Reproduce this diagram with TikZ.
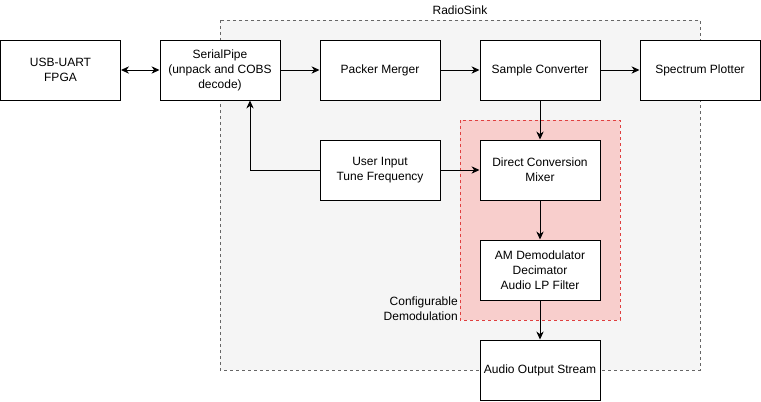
\documentclass[tikz,border=0pt]{standalone}
\usepackage{fontspec}
\setmainfont{Liberation Sans}
\usetikzlibrary{arrows.meta}
\definecolor{sinkfill}{HTML}{F5F5F5}
\definecolor{sinkline}{HTML}{666666}
\definecolor{demodfill}{HTML}{F8CECC}
\definecolor{demodline}{HTML}{E04040}
\newcommand{\txt}{\fontsize{9}{11.25}\selectfont}

\tikzset{
  block/.style={draw=black, fill=white, line width=0.75pt, minimum width=90pt,
    minimum height=45pt, inner sep=0pt, align=center, font=\txt},
  flow/.style={line width=0.75pt, -{Stealth[length=6pt,width=5.5pt]}},
  area/.style={line width=0.75pt, dash pattern=on 2.25pt off 2.25pt}
}

\begin{document}
\begin{tikzpicture}[x=0.75pt, y=-0.75pt]
    \useasboundingbox (0,0) rectangle (761,401);

    \draw[area, draw=sinkline, fill=sinkfill] (220,20) rectangle (700,370);
    \node[font=\txt] (sinklabel) at (460,10) {RadioSink};

    \draw[area, draw=demodline, fill=demodfill] (460,120) rectangle (620,320);
    \node[font=\txt, align=right, anchor=east, inner sep=0pt] (demodlabel) at (458,309) {Configurable\\Demodulation};

    \node[block] (usb) at (60.5,70) {USB-UART\\FPGA};
    \node[block] (serial) at (220,70) {SerialPipe\\(unpack and COBS\\decode)};
    \node[block] (packer) at (380,70) {Packer Merger};
    \node[block] (sample) at (540,70) {Sample Converter};
    \node[block] (spectrum) at (700,70) {Spectrum Plotter};

    \node[block] (user) at (380,170) {User Input\\Tune Frequency};
    \node[block] (mixer) at (540,170) {Direct Conversion\\Mixer};
    \node[block] (demod) at (540,270) {AM Demodulator\\Decimator\\Audio LP Filter};
    \node[block] (audio) at (540,370) {Audio Output Stream};

    \draw[flow, {Stealth[length=6pt,width=5.5pt]}-{Stealth[length=6pt,width=5.5pt]}] (usb) -- (serial);
    \draw[flow] (serial) -- (packer);
    \draw[flow] (packer) -- (sample);
    \draw[flow] (sample) -- (spectrum);
    \draw[flow] (sample) -- (mixer);
    \draw[flow] (user) -- (mixer);
    \draw[flow] (mixer) -- (demod);
    \draw[flow] (demod) -- (audio);
    \draw[flow] (user.west) -| ([xshift=22.5pt]serial.south);
\end{tikzpicture}
\end{document}
